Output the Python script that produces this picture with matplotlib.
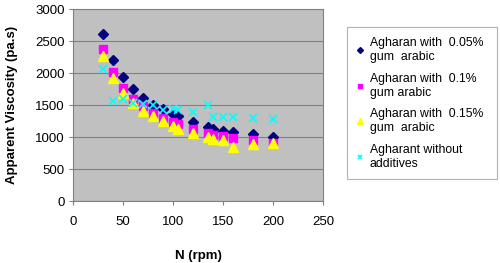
import numpy as np
import matplotlib
matplotlib.use("Agg")
import matplotlib.pyplot as plt

plt.rcParams['font.family'] = ['Liberation Sans', 'DejaVu Sans']

rpm = [30, 40, 50, 60, 70, 80, 90, 100, 105, 120, 135, 140, 150, 160, 180, 200]
visc_005 = [2613, 2200, 1944, 1756, 1610, 1505, 1432, 1359, 1322, 1228, 1150, 1118, 1098, 1071, 1040, 993]
visc_010 = [2378, 2017, 1772, 1599, 1484, 1375, 1296, 1233, 1197, 1129, 1061, 1035, 1009, 983, 951, 909]
visc_015 = [2270, 1929, 1683, 1526, 1406, 1327, 1244, 1171, 1129, 1056, 993, 962, 946, 836, 889, 899]
visc_none = [2064, 1568, 1589, 1537, 1516, 1495, 1422, 1443, 1427, 1390, 1500, 1307, 1307, 1307, 1296, 1275]

labels = ["Agharan with  0.05%\ngum  arabic",
          "Agharan with  0.1%\ngum arabic",
          "Agharan with  0.15%\ngum  arabic",
          "Agharant without\nadditives"]

fig = plt.figure(figsize=(5.0, 2.63), dpi=100)
ax = fig.add_axes([73/500, 1 - 201/263, 250/500, 192/263])
ax.set_facecolor("#C0C0C0")

ax.plot(rpm, visc_005, ls="none", marker="D", ms=5, color="#000080", label=labels[0])
ax.plot(rpm, visc_010, ls="none", marker="s", ms=5.5, color="#FF00FF", label=labels[1])
ax.plot(rpm, visc_015, ls="none", marker="^", ms=6.5, color="#FFFF00", label=labels[2])
ax.plot(rpm, visc_none, ls="none", marker="x", ms=6, mew=1.2, color="#00FFFF", label=labels[3])

ax.set_xlim(0, 250)
ax.set_ylim(0, 3000)
ax.set_xticks(np.arange(0, 251, 50))
ax.set_yticks(np.arange(0, 3001, 500))
ax.yaxis.grid(True, color="#808080", lw=0.8)
ax.set_axisbelow(True)
for s in ax.spines.values():
    s.set_color("#808080")
    s.set_linewidth(0.8)
ax.tick_params(labelsize=9.5, length=3, width=0.8, color="#808080", pad=3)
ax.tick_params(axis="x", pad=8)

ax.set_xlabel("N (rpm)", fontsize=9.5, fontweight="bold", labelpad=16)
ax.set_ylabel("Apparent Viscosity (pa.s)", fontsize=9.5, fontweight="bold", labelpad=12)

leg = fig.legend(loc="upper left", bbox_to_anchor=(347/500, 1 - 30/263, 150/500, 0.01),
                 mode="expand", fontsize=8.8, frameon=True, fancybox=False, edgecolor="#A0A0A0",
                 handlelength=0.6, handletextpad=0.45, labelspacing=0.8,
                 borderpad=0.8, borderaxespad=0, markerscale=0.6)
leg.get_frame().set_linewidth(0.8)

fig.savefig("out.png", dpi=100)
